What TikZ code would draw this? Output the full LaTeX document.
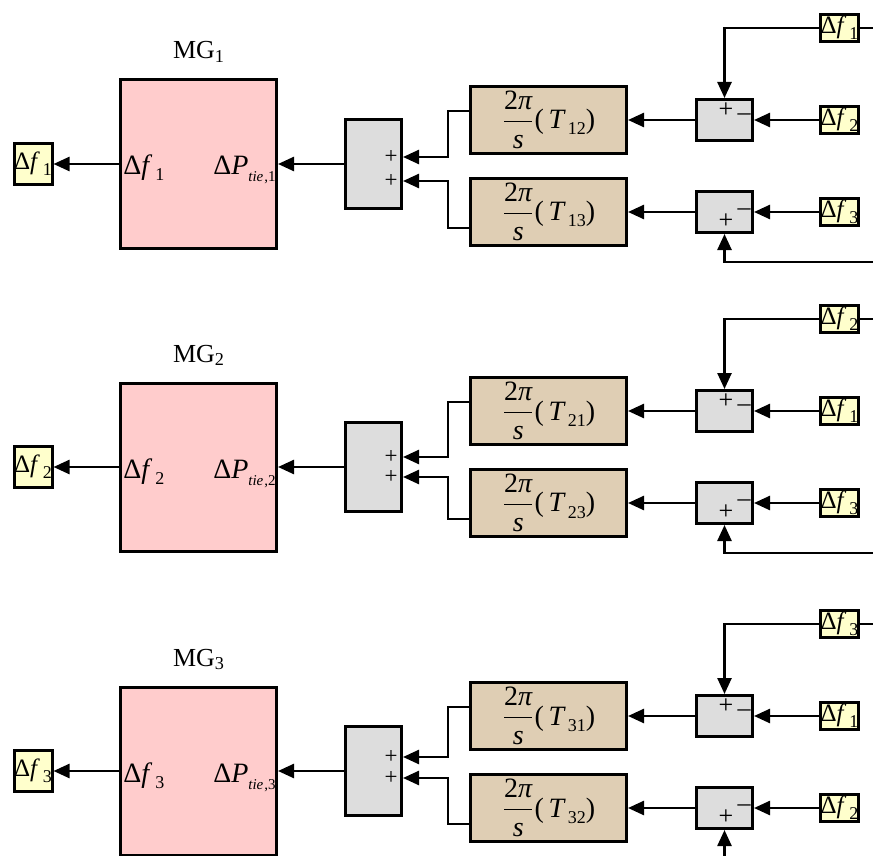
\documentclass[tikz,border=0pt]{standalone}
\usepackage{amsmath}
\usepackage{fontspec}
\setmainfont{Liberation Serif}
\usetikzlibrary{arrows.meta}
\definecolor{mgfill}{HTML}{FFCCCC}
\definecolor{tffill}{HTML}{DFCEB4}
\definecolor{sumfill}{HTML}{DDDDDD}
\definecolor{sigfill}{HTML}{FFFFCC}
\newcommand{\dlf}[1]{Δ\textit{f}\kern1.5pt\raisebox{-3pt}{\fontsize{9}{10}\selectfont #1}}
\newcommand{\dptie}[1]{Δ\textit{P}\raisebox{-3.5pt}{\fontsize{7.5}{9}\selectfont\textit{tie}\kern0.5pt,#1}}
\newcommand{\tfun}[1]{$\dfrac{\text{2}\textit{π}}{\textit{s}}$(\,\textit{T}\kern1pt\raisebox{-3pt}{\fontsize{9}{10}\selectfont #1})}

\begin{document}
\begin{tikzpicture}[
  x=0.5pt, y=-0.5pt,
  mgbox/.style={draw, line width=1.5pt, fill=mgfill, minimum width=78pt, minimum height=84pt, inner sep=0pt},
  sumbox/.style={draw, line width=1.5pt, fill=sumfill, minimum width=28pt, minimum height=44.5pt, inner sep=0pt},
  tfbox/.style={draw, line width=1.5pt, fill=tffill, minimum width=78pt, minimum height=33.5pt, inner sep=0pt,
                font=\fontsize{14}{16}\selectfont},
  cmpbox/.style={draw, line width=1.5pt, fill=sumfill, minimum width=28pt, minimum height=20.5pt, inner sep=0pt},
  sigbox/.style={draw, line width=1.5pt, fill=sigfill, minimum width=18.5pt, minimum height=13.5pt, inner sep=0pt,
                 font=\fontsize{12.5}{14}\selectfont},
  outbox/.style={sigbox, minimum width=19pt, minimum height=20.5pt},
  route/.style={draw, line width=1.25pt, -{Triangle[length=8pt, width=7pt]}},
  wire/.style={draw, line width=1.25pt},
  signtxt/.style={inner sep=0pt, font=\fontsize{13}{14}\selectfont},
  plustxt/.style={inner sep=0pt, font=\fontsize{11.5}{12}\selectfont},
  port/.style={inner sep=0pt, font=\fontsize{14}{16}\selectfont},
  title/.style={inner sep=0pt, font=\fontsize{13}{15}\selectfont}
]
\useasboundingbox (0,0) rectangle (873,856);
\clip (0,0) rectangle (873,856);

\node[mgbox] (mg1) at (198.5,164) {};
\node[title, anchor=base] (mgt1) at (199,59) {MG\textsubscript{1}};
\node[port, anchor=base west] (pf1) at ([xshift=2pt, yshift=-5.5pt]mg1.west) {\dlf{1}};
\node[port, anchor=base east] (pp1) at ([xshift=-1pt, yshift=-5.5pt]mg1.east) {\dptie{1}};
\node[outbox] (out1) at (33,164) {\dlf{1}};
\node[sumbox] (sum1) at (373.5,164) {};
\node[plustxt] (p12) at ([xshift=-6pt, yshift=3.5pt]sum1.east) {+};
\node[plustxt] (p13) at ([xshift=-6pt, yshift=-8.5pt]sum1.east) {+};
\node[tfbox] (tf12) at (548.5,120) {\tfun{12}};
\node[tfbox] (tf13) at (548.5,212) {\tfun{13}};
\node[cmpbox] (cmp12) at (724.5,120) {};
\node[cmpbox] (cmp13) at (724.5,212) {};
\node[signtxt] (q12) at ([xshift=0.75pt, yshift=4.75pt]cmp12.center) {+};
\node[signtxt] (m12) at ([xshift=9.75pt, yshift=1.5pt]cmp12.center) {--};
\node[signtxt] (q13) at ([xshift=0.75pt, yshift=-4.75pt]cmp13.center) {+};
\node[signtxt] (m13) at ([xshift=9.75pt, yshift=0pt]cmp13.center) {--};
\node[sigbox] (sa1) at (839.5,28) {\dlf{1}};
\node[sigbox] (sb1) at (839.5,120) {\dlf{2}};
\node[sigbox] (sc1) at (839.5,212) {\dlf{3}};
\coordinate (ea1) at (880,28);
\coordinate (eb1) at (880,262);
\draw[route] (mg1.west) -- (out1.east);
\draw[route] (sum1.west) -- (mg1.east);
\draw[route] ([yshift=4.5pt]tf12.west) -- ++(-21,0) |- ([yshift=3.5pt]sum1.east);
\draw[route] ([yshift=-8pt]tf13.west) -- ++(-21,0) |- ([yshift=-8.5pt]sum1.east);
\draw[route] (cmp12.west) -- (tf12.east);
\draw[route] (cmp13.west) -- (tf13.east);
\draw[route] (sb1.west) -- (cmp12.east);
\draw[route] (sc1.west) -- (cmp13.east);
\draw[route] (sa1.west) -| (cmp12.north);
\draw[wire] (sa1.east) -- (ea1);
\draw[route] (eb1) -| (cmp13.south);

\node[mgbox] (mg2) at (198.5,467) {};
\node[title, anchor=base] (mgt2) at (199,362) {MG\textsubscript{2}};
\node[port, anchor=base west] (pf2) at ([xshift=2pt, yshift=-5.5pt]mg2.west) {\dlf{2}};
\node[port, anchor=base east] (pp2) at ([xshift=-1pt, yshift=-5.5pt]mg2.east) {\dptie{2}};
\node[outbox] (out2) at (33,467) {\dlf{2}};
\node[sumbox] (sum2) at (373.5,467) {};
\node[plustxt] (p21) at ([xshift=-6pt, yshift=5pt]sum2.east) {+};
\node[plustxt] (p23) at ([xshift=-6pt, yshift=-5pt]sum2.east) {+};
\node[tfbox] (tf21) at (548.5,411) {\tfun{21}};
\node[tfbox] (tf23) at (548.5,503) {\tfun{23}};
\node[cmpbox] (cmp21) at (724.5,411) {};
\node[cmpbox] (cmp23) at (724.5,503) {};
\node[signtxt] (q21) at ([xshift=0.75pt, yshift=4.75pt]cmp21.center) {+};
\node[signtxt] (m21) at ([xshift=9.75pt, yshift=1.5pt]cmp21.center) {--};
\node[signtxt] (q23) at ([xshift=0.75pt, yshift=-4.75pt]cmp23.center) {+};
\node[signtxt] (m23) at ([xshift=9.75pt, yshift=0pt]cmp23.center) {--};
\node[sigbox] (sa2) at (839.5,319) {\dlf{2}};
\node[sigbox] (sb2) at (839.5,411) {\dlf{1}};
\node[sigbox] (sc2) at (839.5,503) {\dlf{3}};
\coordinate (ea2) at (880,319);
\coordinate (eb2) at (880,553);
\draw[route] (mg2.west) -- (out2.east);
\draw[route] (sum2.west) -- (mg2.east);
\draw[route] ([yshift=4.5pt]tf21.west) -- ++(-21,0) |- ([yshift=5pt]sum2.east);
\draw[route] ([yshift=-8pt]tf23.west) -- ++(-21,0) |- ([yshift=-5pt]sum2.east);
\draw[route] (cmp21.west) -- (tf21.east);
\draw[route] (cmp23.west) -- (tf23.east);
\draw[route] (sb2.west) -- (cmp21.east);
\draw[route] (sc2.west) -- (cmp23.east);
\draw[route] (sa2.west) -| (cmp21.north);
\draw[wire] (sa2.east) -- (ea2);
\draw[route] (eb2) -| (cmp23.south);

\node[mgbox] (mg3) at (198.5,771) {};
\node[title, anchor=base] (mgt3) at (199,666) {MG\textsubscript{3}};
\node[port, anchor=base west] (pf3) at ([xshift=2pt, yshift=-5.5pt]mg3.west) {\dlf{3}};
\node[port, anchor=base east] (pp3) at ([xshift=-1pt, yshift=-5.5pt]mg3.east) {\dptie{3}};
\node[outbox] (out3) at (33,771) {\dlf{3}};
\node[sumbox] (sum3) at (373.5,771) {};
\node[plustxt] (p31) at ([xshift=-6pt, yshift=7pt]sum3.east) {+};
\node[plustxt] (p32) at ([xshift=-6pt, yshift=-3.5pt]sum3.east) {+};
\node[tfbox] (tf31) at (548.5,716) {\tfun{31}};
\node[tfbox] (tf32) at (548.5,808) {\tfun{32}};
\node[cmpbox] (cmp31) at (724.5,716) {};
\node[cmpbox] (cmp32) at (724.5,808) {};
\node[signtxt] (q31) at ([xshift=0.75pt, yshift=4.75pt]cmp31.center) {+};
\node[signtxt] (m31) at ([xshift=9.75pt, yshift=1.5pt]cmp31.center) {--};
\node[signtxt] (q32) at ([xshift=0.75pt, yshift=-4.75pt]cmp32.center) {+};
\node[signtxt] (m32) at ([xshift=9.75pt, yshift=0pt]cmp32.center) {--};
\node[sigbox] (sa3) at (839.5,624) {\dlf{3}};
\node[sigbox] (sb3) at (839.5,716) {\dlf{1}};
\node[sigbox] (sc3) at (839.5,808) {\dlf{2}};
\coordinate (ea3) at (880,624);
\coordinate (eb3) at (880,858);
\draw[route] (mg3.west) -- (out3.east);
\draw[route] (sum3.west) -- (mg3.east);
\draw[route] ([yshift=4.5pt]tf31.west) -- ++(-21,0) |- ([yshift=7pt]sum3.east);
\draw[route] ([yshift=-8pt]tf32.west) -- ++(-21,0) |- ([yshift=-3.5pt]sum3.east);
\draw[route] (cmp31.west) -- (tf31.east);
\draw[route] (cmp32.west) -- (tf32.east);
\draw[route] (sb3.west) -- (cmp31.east);
\draw[route] (sc3.west) -- (cmp32.east);
\draw[route] (sa3.west) -| (cmp31.north);
\draw[wire] (sa3.east) -- (ea3);
\draw[route] (eb3) -| (cmp32.south);
\end{tikzpicture}
\end{document}
